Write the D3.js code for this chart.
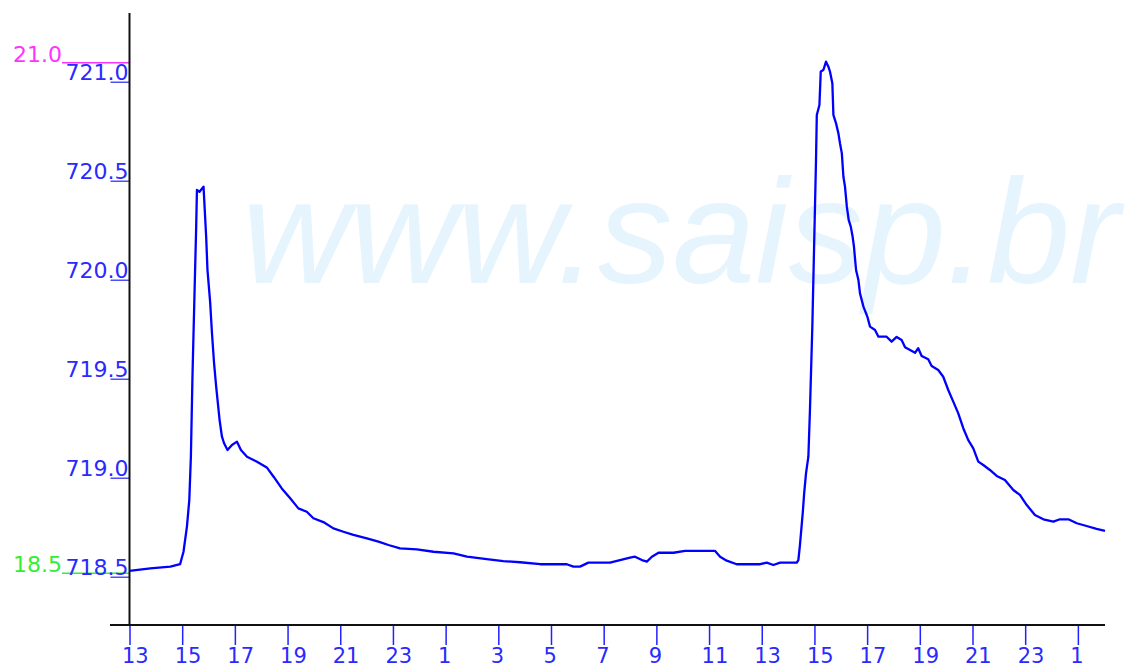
<!DOCTYPE html>
<html>
<head>
<meta charset="utf-8">
<script src="https://cdn.jsdelivr.net/npm/d3@7"></script>
<style>
  html, body { margin: 0; padding: 0; background: #fff; }
  svg { display: block; }
</style>
</head>
<body>
<script>
// hours counted from 13:00 of the first day
var hours = [0, 0.79, 1.55, 1.92, 2.05, 2.18, 2.27, 2.33, 2.39, 2.46, 2.53, 2.56, 2.66, 2.81,
  2.91, 2.96, 3.06, 3.13, 3.21, 3.29, 3.42, 3.51, 3.59, 3.72, 3.89, 4.08, 4.23, 4.46, 4.84,
  5.21, 5.47, 5.78, 6.10, 6.41, 6.73, 6.98, 7.36, 7.74, 8.12, 8.50, 9.01, 9.45, 9.83, 10.27,
  10.91, 11.54, 12.30, 12.81, 13.56, 14.19, 14.83, 15.59, 16.60, 16.85, 17.10, 17.42, 18.24,
  18.62, 19.00, 19.19, 19.45, 19.64, 19.83, 20.08, 20.65, 21.09, 22.23, 22.42, 22.67, 23.05,
  23.94, 24.19, 24.44, 24.70, 25.33, 25.39, 25.45, 25.56, 25.61, 25.68, 25.77, 25.83, 25.92,
  25.99, 26.06, 26.09, 26.19, 26.24, 26.34, 26.44, 26.53, 26.59, 26.68, 26.72, 26.82, 26.91,
  26.97, 27.04, 27.10, 27.16, 27.23, 27.30, 27.38, 27.45, 27.50, 27.58, 27.67, 27.73, 27.86,
  28.01, 28.11, 28.30, 28.43, 28.74, 28.93, 29.12, 29.31, 29.44, 29.82, 29.94, 30.07, 30.32,
  30.45, 30.70, 30.89, 31.08, 31.27, 31.46, 31.65, 31.84, 32.03, 32.22, 32.41, 32.66, 32.92,
  33.23, 33.55, 33.80, 34.06, 34.37, 34.69, 35.07, 35.32, 35.64, 35.96, 36.33, 36.71, 37.03];

var level = [718.529, 718.542, 718.551, 718.563, 718.626, 718.753, 718.887, 719.106, 719.510,
  719.889, 720.260, 720.453, 720.444, 720.470, 720.217, 720.049, 719.889, 719.731, 719.579,
  719.460, 719.291, 719.207, 719.174, 719.140, 719.165, 719.182, 719.140, 719.106, 719.081,
  719.052, 719.005, 718.946, 718.896, 718.845, 718.828, 718.795, 718.776, 718.744, 718.727,
  718.711, 718.694, 718.677, 718.660, 718.643, 718.638, 718.626, 718.618, 718.601, 718.589,
  718.579, 718.573, 718.563, 718.563, 718.551, 718.551, 718.571, 718.571, 718.584, 718.596,
  718.601, 718.584, 718.576, 718.601, 718.621, 718.621, 718.630, 718.630, 718.601, 718.581,
  718.563, 718.563, 718.571, 718.559, 718.571, 718.571, 718.584, 718.660, 718.828, 718.921,
  719.022, 719.106, 719.342, 719.763, 720.184, 720.605, 720.832, 720.882, 721.051, 721.059,
  721.101, 721.076, 721.051, 720.992, 720.832, 720.790, 720.739, 720.689, 720.638, 720.520,
  720.470, 720.369, 720.302, 720.268, 720.217, 720.167, 720.049, 719.998, 719.931, 719.864,
  719.813, 719.763, 719.746, 719.712, 719.712, 719.687, 719.711, 719.695, 719.659, 719.631,
  719.654, 719.615, 719.598, 719.564, 719.544, 719.510, 719.443, 719.384, 719.325, 719.250,
  719.190, 719.148, 719.081, 719.064, 719.039, 719.009, 718.988, 718.938, 718.913, 718.862,
  718.812, 718.790, 718.778, 718.790, 718.790, 718.770, 718.756, 718.742, 718.732];

var xTicks = [0, 2, 4, 6, 8, 10, 12, 14, 16, 18, 20, 22, 24, 26, 28, 30, 32, 34, 36];
var xTickLabels = ["13", "15", "17", "19", "21", "23", "1", "3", "5", "7", "9", "11",
  "13", "15", "17", "19", "21", "23", "1"];
var yTicks = [718.5, 719.0, 719.5, 720.0, 720.5, 721.0];
var limitValues = [21.0, 18.5];
var limitColors = ["#ff33ff", "#33ee33"];

var W = 1131, H = 669;
var axisX = 129.5, axisY = 625;

var svg = d3.select("body")
            .append("svg")
              .attr("width", W)
              .attr("height", H);

var x = d3.scaleLinear().domain([0, 37.03]).range([axisX, 1105]);
var y = d3.scaleLinear().domain([718.5, 721.0]).range([576.7, 81.7]);
// second scale used only by the two limit marks on the left
var y2 = d3.scaleLinear().domain([18.5, 21.0]).range([573.3, 62.7]);

// watermark
svg.append("text")
  .attr("x", 242)
  .attr("y", 283)
  .attr("font-family", "Liberation Sans, Arial, sans-serif")
  .attr("font-style", "italic")
  .attr("font-size", 149)
  .attr("fill", "#e6f5fd")
  .text("www.saisp.br");

// limit marks (magenta / green)
var limits = svg.selectAll(".limit")
  .data(limitValues)
  .enter().append("g")
    .attr("class", "limit");

limits.append("line")
  .attr("x1", 62).attr("x2", axisX)
  .attr("y1", function(d){ return y2(d); })
  .attr("y2", function(d){ return y2(d); })
  .attr("stroke", function(d, i){ return limitColors[i]; })
  .attr("stroke-width", 1.5);

limits.append("text")
  .attr("x", 62)
  .attr("y", function(d){ return y2(d) - 1; })
  .attr("text-anchor", "end")
  .attr("font-family", "DejaVu Sans, sans-serif")
  .attr("font-size", 22)
  .attr("fill", function(d, i){ return limitColors[i]; })
  .text(function(d){ return d.toFixed(1); });

// y axis: tick line under each label
var yAxis = svg.append("g")
  .attr("transform", "translate(" + axisX + ",0)")
  .call(d3.axisLeft(y).tickValues(yTicks).tickSize(19).tickFormat(d3.format(".1f")));

yAxis.select(".domain").remove();
yAxis.selectAll(".tick line").attr("stroke", "#2222ff").attr("stroke-width", 1.2);
yAxis.selectAll(".tick text")
  .attr("x", -1)
  .attr("dy", "-0.08em")
  .attr("font-family", "DejaVu Sans, sans-serif")
  .attr("font-size", 22)
  .attr("fill", "#2a2aff");

// x axis
var xAxis = svg.append("g")
  .attr("transform", "translate(0," + axisY + ")")
  .call(d3.axisBottom(x).tickValues(xTicks).tickSize(20)
    .tickFormat(function(d, i){ return xTickLabels[i]; }));

xAxis.select(".domain").remove();
xAxis.selectAll(".tick line").attr("stroke", "#2222ff").attr("stroke-width", 1.5);
xAxis.selectAll(".tick text")
  .attr("x", -8)
  .attr("y", 38)
  .attr("dy", 0)
  .attr("text-anchor", "start")
  .attr("font-family", "DejaVu Sans, sans-serif")
  .attr("font-size", 21)
  .attr("fill", "#2a2aff");

// axis lines
svg.append("line")
  .attr("x1", axisX).attr("x2", axisX)
  .attr("y1", 13).attr("y2", axisY)
  .attr("stroke", "#111").attr("stroke-width", 2);

svg.append("line")
  .attr("x1", 110).attr("x2", 1105)
  .attr("y1", axisY).attr("y2", axisY)
  .attr("stroke", "#111").attr("stroke-width", 2);

// level series
var line = d3.line()
  .x(function(d, i){ return x(hours[i]); })
  .y(function(d){ return y(d); });

svg.append("path")
  .datum(level)
  .attr("d", line)
  .attr("fill", "none")
  .attr("stroke", "#0000ff")
  .attr("stroke-width", 2.3)
  .attr("stroke-linejoin", "round");
</script>
</body>
</html>
